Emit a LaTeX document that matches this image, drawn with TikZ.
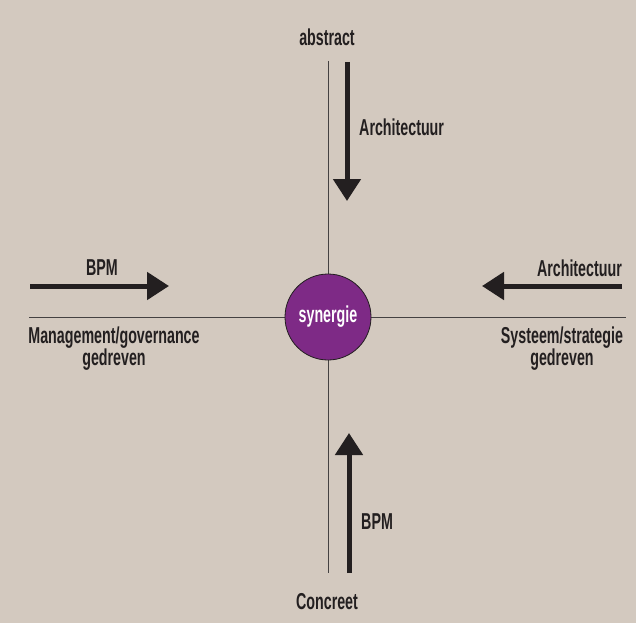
\documentclass[tikz,border=0pt]{standalone}
\usepackage{fontspec}
\setmainfont{Liberation Sans}[FakeStretch=0.62]
\usetikzlibrary{arrows.meta}
\definecolor{bg}{HTML}{D3C9BF}
\definecolor{ink}{HTML}{231F20}
\definecolor{syn}{HTML}{7E2A86}
\begin{document}
\begin{tikzpicture}[x=1pt,y=-1pt,
  lbl/.style={font=\bfseries\fontsize{23}{22}\selectfont, text=ink, inner sep=0pt, align=center},
  axis/.style={draw=ink!85, line width=1pt},
  bigarrow/.style={draw=ink, line width=5pt, -{Triangle[length=22pt,width=27pt]}}]
\fill[bg] (0,0) rectangle (636,623);
\useasboundingbox (0,0) rectangle (636,623);
% axes
\coordinate (vt) at (328,61);
\coordinate (vb) at (328,573);
\coordinate (hl) at (29,317);
\coordinate (hr) at (626,317);
\draw[axis] (vt) -- (vb);
\draw[axis] (hl) -- (hr);
\node[circle, fill=syn, draw=ink, line width=0.8pt, minimum size=86pt, inner sep=0pt,
  font=\bfseries\fontsize{23}{22}\selectfont, text=white] (syn) at (328,317) {synergie};
% arrows
\coordinate (a1s) at (347,62);  \coordinate (a1e) at (347,201);
\coordinate (a2s) at (349,573); \coordinate (a2e) at (349,433);
\coordinate (a3s) at (30,286);  \coordinate (a3e) at (169,286);
\coordinate (a4s) at (622,286); \coordinate (a4e) at (482,286);
\draw[bigarrow] (a1s) -- (a1e);
\draw[bigarrow] (a2s) -- (a2e);
\draw[bigarrow] (a3s) -- (a3e);
\draw[bigarrow] (a4s) -- (a4e);
% labels
\node[lbl] (abs) at (327,37) {abstract};
\node[lbl] (con) at (327,602) {Concreet};
\node[lbl, anchor=west] (archv) at (359,127) {Architectuur};
\node[lbl, anchor=west] (bpmv) at (361,522) {BPM};
\node[lbl] (bpmh) at (102,268) {BPM};
\node[lbl, anchor=east] (archh) at (622,268) {Architectuur};
\node[lbl, anchor=north] (mg) at (114,327) {Management/governance\\gedreven};
\node[lbl, anchor=north] (sy) at (562,327) {Systeem/strategie\\gedreven};
\end{tikzpicture}
\end{document}
